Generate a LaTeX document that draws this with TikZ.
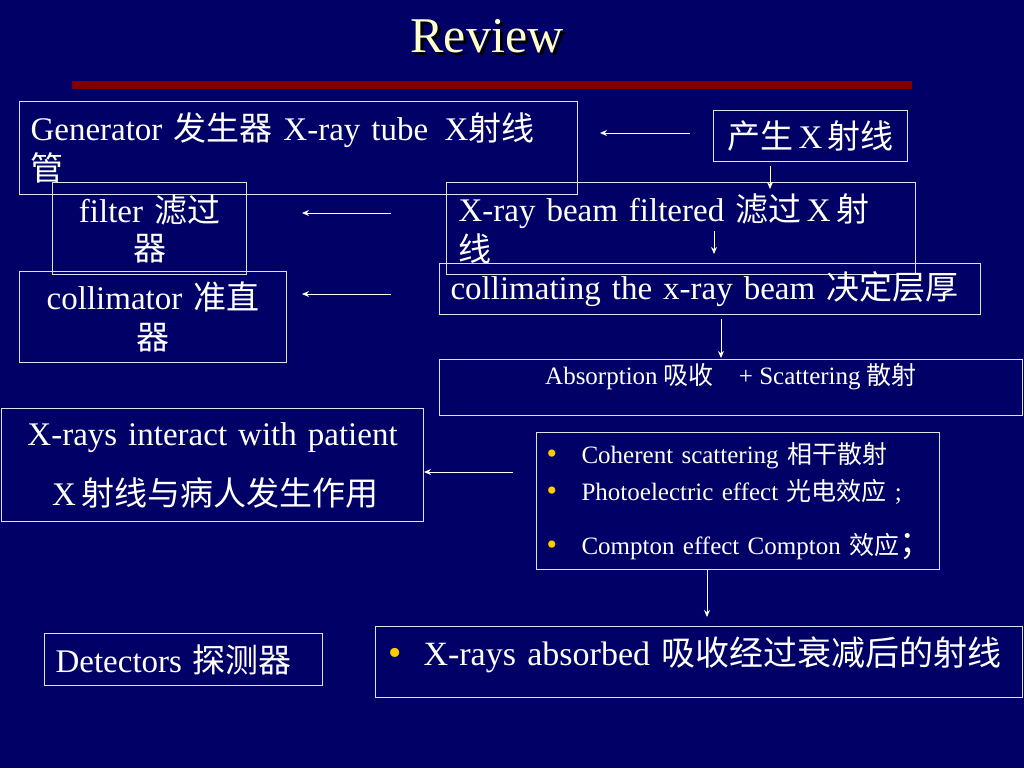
\documentclass[tikz,border=0pt]{standalone}
\usepackage{fontspec}
\setmainfont{Liberation Serif}
\newfontfamily\cjk{Noto Sans CJK SC}
\usetikzlibrary{arrows.meta}
\newcommand\zh[1]{{\cjk #1}}
\definecolor{bg}{HTML}{000066}
\definecolor{barred}{HTML}{800000}
\definecolor{ttl}{HTML}{FFFFCC}
\definecolor{edge}{HTML}{E0E0EC}
\definecolor{bul}{HTML}{FFCC00}
\newcommand\bul{\makebox[35pt][l]{\textcolor{bul}{\fontsize{30}{0}\selectfont\textbullet}}}
\newcommand\bigbul{\makebox[35pt][l]{\textcolor{bul}{\fontsize{38}{0}\selectfont\textbullet}}}
\tikzset{
  box/.style={draw=edge, line width=1.1pt, inner sep=0pt, text=white, anchor=north west,
              font=\fontsize{33}{40}\selectfont},
  small/.style={font=\fontsize{25}{37}\selectfont},
  arr/.style={draw=white, line width=1pt, -{Stealth[length=7pt,width=6pt]}},
}
\begin{document}
\begin{tikzpicture}[x=1pt,y=-1pt]
\fill[bg] (0,0) rectangle (1024,768);
\useasboundingbox (0,0) rectangle (1024,768);
\fill[barred] (72,81) rectangle (912,89);
\node[text=ttl, font=\fontsize{50}{56}\selectfont] (title) at (487,38)
  {\makebox[0pt][l]{\hspace{3pt}\raisebox{-3pt}{\textcolor{black}{Review}}}Review};

\node[box, minimum width=558, minimum height=93, text width=536, align=left] (gen) at (19,101)
  {Generator \zh{发生器} X-ray tube \,X\zh{射线}\\\zh{管}};
\node[box, minimum width=194, minimum height=51, align=center] (prod) at (713,110)
  {\zh{产生}\,X\,\zh{射线}};
\node[box, minimum width=194, minimum height=92, text width=194, align=center] (filt) at (52,182)
  {filter \zh{滤过}\\[-2pt]\zh{器}};
\node[box, minimum width=469, minimum height=92, text width=445, align=left] (beam) at (446,182)
  {X-ray beam filtered \zh{滤过}\,X\,\zh{射}\\\zh{线}};
\node[box, minimum width=541, minimum height=51, text width=519, align=left] (colli) at (439,263)
  {collimating the x-ray beam \zh{决定层厚}};
\node[box, minimum width=267, minimum height=91, text width=267, align=center] (coll) at (19,271)
  {collimator \zh{准直}\\\zh{器}};
\node[box, minimum width=583, minimum height=56,
  label={[small, text=white, anchor=north, inner sep=0pt, yshift=-4pt]north:{Absorption \zh{吸收}\quad + Scattering \zh{散射}}}]
  (abs) at (439,359) {};
\node[box, minimum width=422, minimum height=113, text width=422, align=center,
  font=\fontsize{33}{60}\selectfont] (inter) at (1,408)
  {X-rays interact with patient\\\,X\,\zh{射线与病人发生作用}};
\node[box, small, minimum width=403, minimum height=137, text width=383, align=left] (list) at (536,432)
  {\mbox{\bul Coherent scattering \zh{相干散射}}\\
   \mbox{\bul Photoelectric effect \zh{光电效应} ;}\\[17pt]
   \mbox{\bul Compton effect Compton \zh{效应}{\fontsize{33}{37}\selectfont\zh{；}}}};
\node[box, minimum width=278, minimum height=52, text width=256, align=left,
  font=\fontsize{33}{36}\selectfont] (det) at (44,633)
  {Detectors \zh{探测器}};
\node[box, minimum width=647, minimum height=71, text width=621, align=left,
  font=\fontsize{34}{40}\selectfont, text depth=22pt] (absd) at (375,626)
  {\bigbul X-rays absorbed \zh{吸收经过衰减后的射线}};

\coordinate (a1s) at (690,133); \coordinate (a1e) at (600,133);
\coordinate (a2s) at (391,213); \coordinate (a2e) at (302,213);
\coordinate (a3s) at (391,294); \coordinate (a3e) at (302,294);
\coordinate (a4s) at (770,166); \coordinate (a4e) at (770,189);
\coordinate (a5s) at (714,231); \coordinate (a5e) at (714,254);
\coordinate (a6s) at (721,319); \coordinate (a6e) at (721,358);
\coordinate (a7s) at (513,472); \coordinate (a7e) at (424,472);
\coordinate (a8s) at (707,570); \coordinate (a8e) at (707,617);
\draw[arr] (a1s) -- (a1e);
\draw[arr] (a2s) -- (a2e);
\draw[arr] (a3s) -- (a3e);
\draw[arr] (a4s) -- (a4e);
\draw[arr] (a5s) -- (a5e);
\draw[arr] (a6s) -- (a6e);
\draw[arr] (a7s) -- (a7e);
\draw[arr] (a8s) -- (a8e);
\end{tikzpicture}
\end{document}
